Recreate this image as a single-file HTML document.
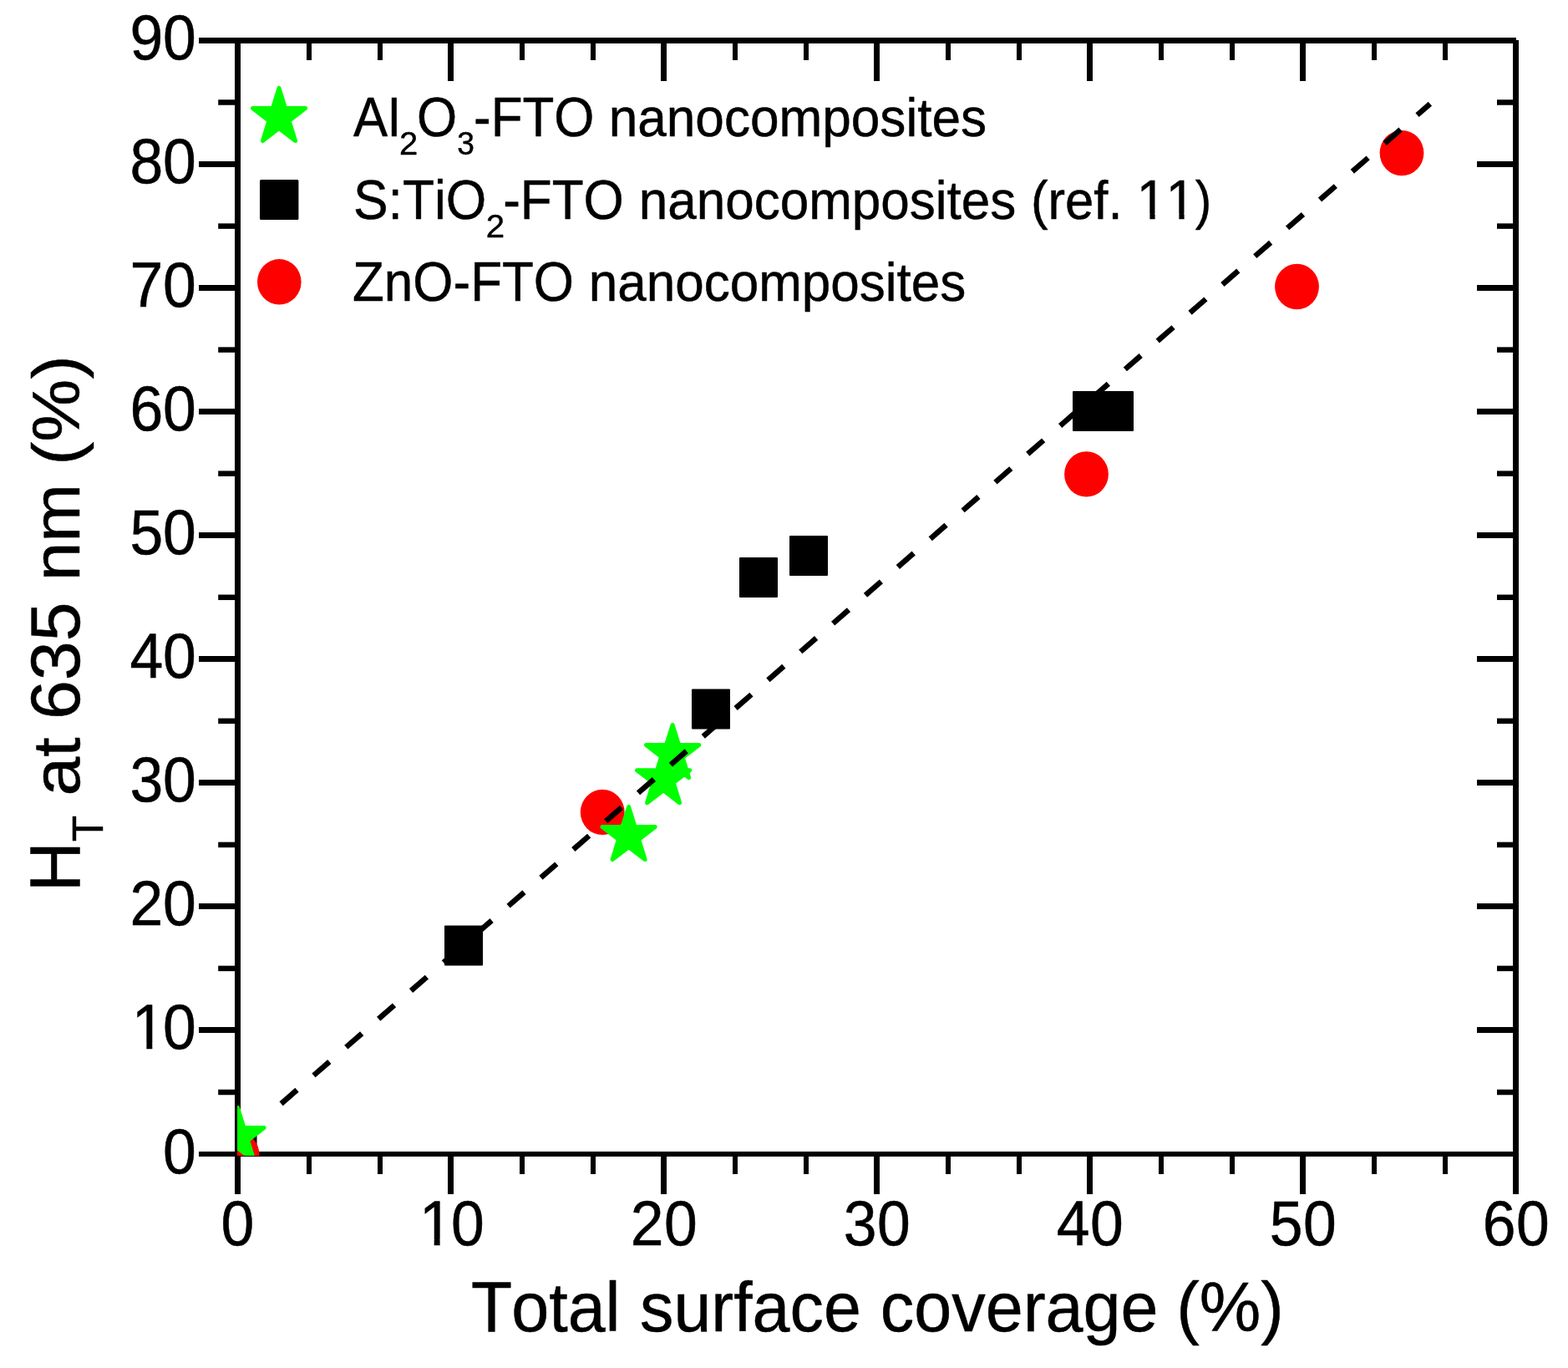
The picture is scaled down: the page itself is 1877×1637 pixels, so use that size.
<!DOCTYPE html>
<html lang="en"><head><meta charset="utf-8"><title>Haze vs total surface coverage</title>
<style>html,body{margin:0;padding:0;background:#fff}body{width:1877px;height:1637px;overflow:hidden}svg{display:block}</style></head>
<body>
<svg width="1877" height="1637" viewBox="0 0 1877 1637" font-family="'Liberation Sans', Arial, Helvetica, sans-serif" fill="#000">
<rect width="1877" height="1637" fill="#fff"/>
<defs><clipPath id="plotclip"><rect x="284" y="48" width="1531" height="1335"/></clipPath></defs>
<g id="axes" stroke="#000" stroke-width="7" fill="none" shape-rendering="crispEdges">
<line x1="238" y1="48.5" x2="1815" y2="48.5"/>
<line x1="238" y1="1381.0" x2="1815" y2="1381.0" stroke-width="6"/>
<line x1="284.5" y1="45" x2="284.5" y2="1428.5"/>
<line x1="1814.5" y1="48" x2="1814.5" y2="1428.5"/>
<line x1="370" y1="1381.0" x2="370" y2="1405.0" stroke-width="6"/>
<line x1="370" y1="48.5" x2="370" y2="72.0" stroke-width="6"/>
<line x1="455" y1="1381.0" x2="455" y2="1405.0" stroke-width="6"/>
<line x1="455" y1="48.5" x2="455" y2="72.0" stroke-width="6"/>
<line x1="539.5" y1="1381.0" x2="539.5" y2="1428.5" stroke-width="7"/>
<line x1="539.5" y1="48.5" x2="539.5" y2="97.0" stroke-width="7"/>
<line x1="625" y1="1381.0" x2="625" y2="1405.0" stroke-width="6"/>
<line x1="625" y1="48.5" x2="625" y2="72.0" stroke-width="6"/>
<line x1="710" y1="1381.0" x2="710" y2="1405.0" stroke-width="6"/>
<line x1="710" y1="48.5" x2="710" y2="72.0" stroke-width="6"/>
<line x1="794.5" y1="1381.0" x2="794.5" y2="1428.5" stroke-width="7"/>
<line x1="794.5" y1="48.5" x2="794.5" y2="97.0" stroke-width="7"/>
<line x1="880" y1="1381.0" x2="880" y2="1405.0" stroke-width="6"/>
<line x1="880" y1="48.5" x2="880" y2="72.0" stroke-width="6"/>
<line x1="965" y1="1381.0" x2="965" y2="1405.0" stroke-width="6"/>
<line x1="965" y1="48.5" x2="965" y2="72.0" stroke-width="6"/>
<line x1="1049.5" y1="1381.0" x2="1049.5" y2="1428.5" stroke-width="7"/>
<line x1="1049.5" y1="48.5" x2="1049.5" y2="97.0" stroke-width="7"/>
<line x1="1135" y1="1381.0" x2="1135" y2="1405.0" stroke-width="6"/>
<line x1="1135" y1="48.5" x2="1135" y2="72.0" stroke-width="6"/>
<line x1="1220" y1="1381.0" x2="1220" y2="1405.0" stroke-width="6"/>
<line x1="1220" y1="48.5" x2="1220" y2="72.0" stroke-width="6"/>
<line x1="1304.5" y1="1381.0" x2="1304.5" y2="1428.5" stroke-width="7"/>
<line x1="1304.5" y1="48.5" x2="1304.5" y2="97.0" stroke-width="7"/>
<line x1="1390" y1="1381.0" x2="1390" y2="1405.0" stroke-width="6"/>
<line x1="1390" y1="48.5" x2="1390" y2="72.0" stroke-width="6"/>
<line x1="1475" y1="1381.0" x2="1475" y2="1405.0" stroke-width="6"/>
<line x1="1475" y1="48.5" x2="1475" y2="72.0" stroke-width="6"/>
<line x1="1559.5" y1="1381.0" x2="1559.5" y2="1428.5" stroke-width="7"/>
<line x1="1559.5" y1="48.5" x2="1559.5" y2="97.0" stroke-width="7"/>
<line x1="1645" y1="1381.0" x2="1645" y2="1405.0" stroke-width="6"/>
<line x1="1645" y1="48.5" x2="1645" y2="72.0" stroke-width="6"/>
<line x1="1730" y1="1381.0" x2="1730" y2="1405.0" stroke-width="6"/>
<line x1="1730" y1="48.5" x2="1730" y2="72.0" stroke-width="6"/>
<line x1="284.5" y1="1307.0" x2="261.2" y2="1307.0" stroke-width="6.5" shape-rendering="geometricPrecision"/>
<line x1="1814.5" y1="1307.0" x2="1792.0" y2="1307.0" stroke-width="6.5" shape-rendering="geometricPrecision"/>
<line x1="284.5" y1="1232.5" x2="238.0" y2="1232.5" stroke-width="7"/>
<line x1="1814.5" y1="1232.5" x2="1768.0" y2="1232.5" stroke-width="7"/>
<line x1="284.5" y1="1158.9" x2="261.2" y2="1158.9" stroke-width="6.5" shape-rendering="geometricPrecision"/>
<line x1="1814.5" y1="1158.9" x2="1792.0" y2="1158.9" stroke-width="6.5" shape-rendering="geometricPrecision"/>
<line x1="284.5" y1="1084.5" x2="238.0" y2="1084.5" stroke-width="7"/>
<line x1="1814.5" y1="1084.5" x2="1768.0" y2="1084.5" stroke-width="7"/>
<line x1="284.5" y1="1010.9" x2="261.2" y2="1010.9" stroke-width="6.5" shape-rendering="geometricPrecision"/>
<line x1="1814.5" y1="1010.9" x2="1792.0" y2="1010.9" stroke-width="6.5" shape-rendering="geometricPrecision"/>
<line x1="284.5" y1="936.5" x2="238.0" y2="936.5" stroke-width="7"/>
<line x1="1814.5" y1="936.5" x2="1768.0" y2="936.5" stroke-width="7"/>
<line x1="284.5" y1="862.8" x2="261.2" y2="862.8" stroke-width="6.5" shape-rendering="geometricPrecision"/>
<line x1="1814.5" y1="862.8" x2="1792.0" y2="862.8" stroke-width="6.5" shape-rendering="geometricPrecision"/>
<line x1="284.5" y1="788.5" x2="238.0" y2="788.5" stroke-width="7"/>
<line x1="1814.5" y1="788.5" x2="1768.0" y2="788.5" stroke-width="7"/>
<line x1="284.5" y1="714.8" x2="261.2" y2="714.8" stroke-width="6.5" shape-rendering="geometricPrecision"/>
<line x1="1814.5" y1="714.8" x2="1792.0" y2="714.8" stroke-width="6.5" shape-rendering="geometricPrecision"/>
<line x1="284.5" y1="640.5" x2="238.0" y2="640.5" stroke-width="7"/>
<line x1="1814.5" y1="640.5" x2="1768.0" y2="640.5" stroke-width="7"/>
<line x1="284.5" y1="566.7" x2="261.2" y2="566.7" stroke-width="6.5" shape-rendering="geometricPrecision"/>
<line x1="1814.5" y1="566.7" x2="1792.0" y2="566.7" stroke-width="6.5" shape-rendering="geometricPrecision"/>
<line x1="284.5" y1="492.5" x2="238.0" y2="492.5" stroke-width="7"/>
<line x1="1814.5" y1="492.5" x2="1768.0" y2="492.5" stroke-width="7"/>
<line x1="284.5" y1="418.6" x2="261.2" y2="418.6" stroke-width="6.5" shape-rendering="geometricPrecision"/>
<line x1="1814.5" y1="418.6" x2="1792.0" y2="418.6" stroke-width="6.5" shape-rendering="geometricPrecision"/>
<line x1="284.5" y1="344.5" x2="238.0" y2="344.5" stroke-width="7"/>
<line x1="1814.5" y1="344.5" x2="1768.0" y2="344.5" stroke-width="7"/>
<line x1="284.5" y1="270.6" x2="261.2" y2="270.6" stroke-width="6.5" shape-rendering="geometricPrecision"/>
<line x1="1814.5" y1="270.6" x2="1792.0" y2="270.6" stroke-width="6.5" shape-rendering="geometricPrecision"/>
<line x1="284.5" y1="196.5" x2="238.0" y2="196.5" stroke-width="7"/>
<line x1="1814.5" y1="196.5" x2="1768.0" y2="196.5" stroke-width="7"/>
<line x1="284.5" y1="122.5" x2="261.2" y2="122.5" stroke-width="6.5" shape-rendering="geometricPrecision"/>
<line x1="1814.5" y1="122.5" x2="1792.0" y2="122.5" stroke-width="6.5" shape-rendering="geometricPrecision"/>
</g>
<g id="data" clip-path="url(#plotclip)">
<g id="squares" fill="#000">
<rect x="261.5" y="1357.5" width="46" height="48" rx="1"/>
<rect x="532.0" y="1107.4" width="46" height="48" rx="1"/>
<rect x="828.0" y="824.4" width="46" height="48" rx="1"/>
<rect x="885.0" y="666.9" width="46" height="48" rx="1"/>
<rect x="945.0" y="640.9" width="46" height="48" rx="1"/>
<rect x="1284.0" y="468.0" width="46" height="48" rx="1"/>
<rect x="1311.0" y="468.0" width="46" height="48" rx="1"/>
</g>
<g id="circles" fill="#f00">
<ellipse cx="284.0" cy="1381.5" rx="26.4" ry="27.2"/>
<ellipse cx="721.2" cy="971.9" rx="26.4" ry="27.2"/>
<ellipse cx="1300.5" cy="567.4" rx="26.4" ry="27.2"/>
<ellipse cx="1552.5" cy="343.0" rx="26.4" ry="27.2"/>
<ellipse cx="1678.0" cy="183.1" rx="26.4" ry="27.2"/>
</g>
<g id="stars" fill="#0f0" stroke="#0f0" stroke-width="5" stroke-linejoin="round">
<polygon points="284.5,1325.5 292.0,1349.6 316.1,1349.6 296.6,1364.5 304.0,1388.6 284.5,1373.7 265.0,1388.6 272.4,1364.5 252.9,1349.6 277.0,1349.6"/>
<polygon points="752.6,965.5 760.1,989.6 784.2,989.6 764.7,1004.5 772.1,1028.6 752.6,1013.7 733.1,1028.6 740.5,1004.5 721.0,989.6 745.1,989.6"/>
<polygon points="794.1,897.6 801.6,921.7 825.7,921.7 806.2,936.6 813.6,960.7 794.1,945.8 774.6,960.7 782.0,936.6 762.5,921.7 786.6,921.7"/>
<polygon points="805.1,867.5 812.6,891.6 836.7,891.6 817.2,906.5 824.6,930.6 805.1,915.7 785.6,930.6 793.0,906.5 773.5,891.6 797.6,891.6"/>
</g>
<line id="fit" x1="336.6" y1="1320.7" x2="1711.9" y2="124.3" stroke="#000" stroke-width="6.5" stroke-dasharray="25 26.5"/>
</g>
<clipPath id="nofoot"><path clip-rule="evenodd" d="M0 0H1877V1637H0ZM505.5 1483.1H519.7V1492.3H505.5ZM526.6 1483.1H540.1V1492.3H526.6ZM161.2 1248.3H175.4V1257.5H161.2ZM182.3 1248.3H195.8V1257.5H182.3ZM1363.9 255.4H1376.4V264.0H1363.9ZM1382.6 255.4H1394.4V264.0H1382.6ZM1399.0 255.4H1411.4V264.0H1399.0ZM1417.6 255.4H1429.4V264.0H1417.6Z"/></clipPath>
<g id="labels" clip-path="url(#nofoot)" stroke="#000" stroke-width="0.5" stroke-linejoin="round">
<text id="xt0" transform="scale(0.9464,1)" x="279.59" y="1490.3" font-size="75.6">0</text>
<text id="xt10" transform="scale(0.9464,1)" x="530.43 570.69" y="1490.3" font-size="75.6">10</text>
<text id="xt20" transform="scale(0.9464,1)" x="797.55 840.13" y="1490.3" font-size="75.6">20</text>
<text id="xt30" transform="scale(0.9464,1)" x="1066.99 1109.57" y="1490.3" font-size="75.6">30</text>
<text id="xt40" transform="scale(0.9464,1)" x="1336.43 1379.02" y="1490.3" font-size="75.6">40</text>
<text id="xt50" transform="scale(0.9464,1)" x="1605.87 1648.46" y="1490.3" font-size="75.6">50</text>
<text id="xt60" transform="scale(0.9464,1)" x="1875.32 1917.90" y="1490.3" font-size="75.6">60</text>
<text id="yt0" transform="scale(0.9464,1)" x="206.16" y="1403.6" font-size="75.6">0</text>
<text id="yt10" transform="scale(0.9464,1)" x="166.64 206.16" y="1255.5" font-size="75.6">10</text>
<text id="yt20" transform="scale(0.9464,1)" x="164.32 206.16" y="1107.5" font-size="75.6">20</text>
<text id="yt30" transform="scale(0.9464,1)" x="164.32 206.16" y="959.4" font-size="75.6">30</text>
<text id="yt40" transform="scale(0.9464,1)" x="164.32 206.16" y="811.4" font-size="75.6">40</text>
<text id="yt50" transform="scale(0.9464,1)" x="164.32 206.16" y="663.3" font-size="75.6">50</text>
<text id="yt60" transform="scale(0.9464,1)" x="164.32 206.16" y="515.3" font-size="75.6">60</text>
<text id="yt70" transform="scale(0.9464,1)" x="164.32 206.16" y="367.2" font-size="75.6">70</text>
<text id="yt80" transform="scale(0.9464,1)" x="164.32 206.16" y="219.2" font-size="75.6">80</text>
<text id="yt90" transform="scale(0.9464,1)" x="164.32 206.16" y="71.1" font-size="75.6">90</text>
<text id="xtitle" style="font-kerning:none"><tspan x="563.9" y="1593" font-size="86" textLength="49.05" lengthAdjust="spacingAndGlyphs">T</tspan><tspan x="612.2" y="1593" font-size="83" textLength="130.41" lengthAdjust="spacingAndGlyphs">otal</tspan> <tspan x="766.05" y="1593" font-size="83" textLength="264.73" lengthAdjust="spacingAndGlyphs">surface</tspan> <tspan x="1053.87" y="1593" font-size="83" textLength="332.63" lengthAdjust="spacingAndGlyphs">coverage</tspan> <tspan x="1408.27" y="1593" font-size="83" textLength="128.55" lengthAdjust="spacingAndGlyphs">(%)</tspan></text>
<text id="ytitle" transform="rotate(-90)" style="font-kerning:none"><tspan x="-1066.88" y="95.4" font-size="84.6" textLength="59.73" lengthAdjust="spacingAndGlyphs">H</tspan><tspan x="-1007.35" y="122.9" font-size="51.5" textLength="31.33" lengthAdjust="spacingAndGlyphs">T</tspan> <tspan x="-952.58" y="95.4" font-size="80.5" textLength="70.19" lengthAdjust="spacingAndGlyphs">at</tspan> <tspan x="-861.08" y="95.4" font-size="84" textLength="140.62" lengthAdjust="spacingAndGlyphs">635</tspan> <tspan x="-695.36" y="95.4" font-size="80.5" textLength="116.28" lengthAdjust="spacingAndGlyphs">nm</tspan> <tspan x="-556.84" y="95.4" font-size="80.3" textLength="131.38" lengthAdjust="spacingAndGlyphs">(%)</tspan></text>
<text id="leg1" style="font-kerning:none"><tspan x="422.98" y="163.0" font-size="66.7" textLength="41.14" lengthAdjust="spacingAndGlyphs">A</tspan><tspan x="464.81" y="163.0" font-size="63.3" textLength="14.16" lengthAdjust="spacingAndGlyphs">l</tspan><tspan x="477.99" y="184.5" font-size="39.4" textLength="22.22" lengthAdjust="spacingAndGlyphs">2</tspan><tspan x="498.97" y="163.0" font-size="66.7" textLength="48.2" lengthAdjust="spacingAndGlyphs">O</tspan><tspan x="547.29" y="184.5" font-size="39.4" textLength="20.65" lengthAdjust="spacingAndGlyphs">3</tspan><tspan x="567.05" y="163.0" font-size="66.7" textLength="144.41" lengthAdjust="spacingAndGlyphs">-FTO</tspan> <tspan x="728.67" y="163.0" font-size="65" textLength="452.47" lengthAdjust="spacingAndGlyphs">nanocomposites</tspan></text>
<text id="leg2" style="font-kerning:none"><tspan x="423.02" y="262.0" font-size="66.7" textLength="159.26" lengthAdjust="spacingAndGlyphs">S:TiO</tspan><tspan x="581.78" y="283.5" font-size="39.4" textLength="22.34" lengthAdjust="spacingAndGlyphs">2</tspan><tspan x="602.15" y="262.0" font-size="66.7" textLength="144.62" lengthAdjust="spacingAndGlyphs">-FTO</tspan> <tspan x="764.78" y="262.0" font-size="65" textLength="451.46" lengthAdjust="spacingAndGlyphs">nanocomposites</tspan> <tspan x="1233.88" y="262.0" font-size="64.5" textLength="109.66" lengthAdjust="spacingAndGlyphs">(ref.</tspan> <tspan x="1360.84" y="262.0" font-size="66.7" textLength="70.09" lengthAdjust="spacingAndGlyphs">11</tspan><tspan x="1430.76" y="262.0" font-size="64.5" textLength="19.47" lengthAdjust="spacingAndGlyphs">)</tspan></text>
<text id="leg3" style="font-kerning:none"><tspan x="422.03" y="360.2" font-size="66.7" textLength="265.03" lengthAdjust="spacingAndGlyphs">ZnO-FTO</tspan> <tspan x="704.78" y="360.2" font-size="65" textLength="451.46" lengthAdjust="spacingAndGlyphs">nanocomposites</tspan></text>
</g>
<g id="legsym">
<polygon points="334.0,105.4 341.5,129.5 365.6,129.5 346.1,144.4 353.5,168.5 334.0,153.6 314.5,168.5 321.9,144.4 302.4,129.5 326.5,129.5" fill="#0f0" stroke="#0f0" stroke-width="5" stroke-linejoin="round"/>
<rect x="311" y="215" width="46.4" height="48" rx="1.5"/>
<ellipse cx="334.3" cy="337.3" rx="26.3" ry="27.2" fill="#f00"/>
</g>
</svg>
</body></html>
